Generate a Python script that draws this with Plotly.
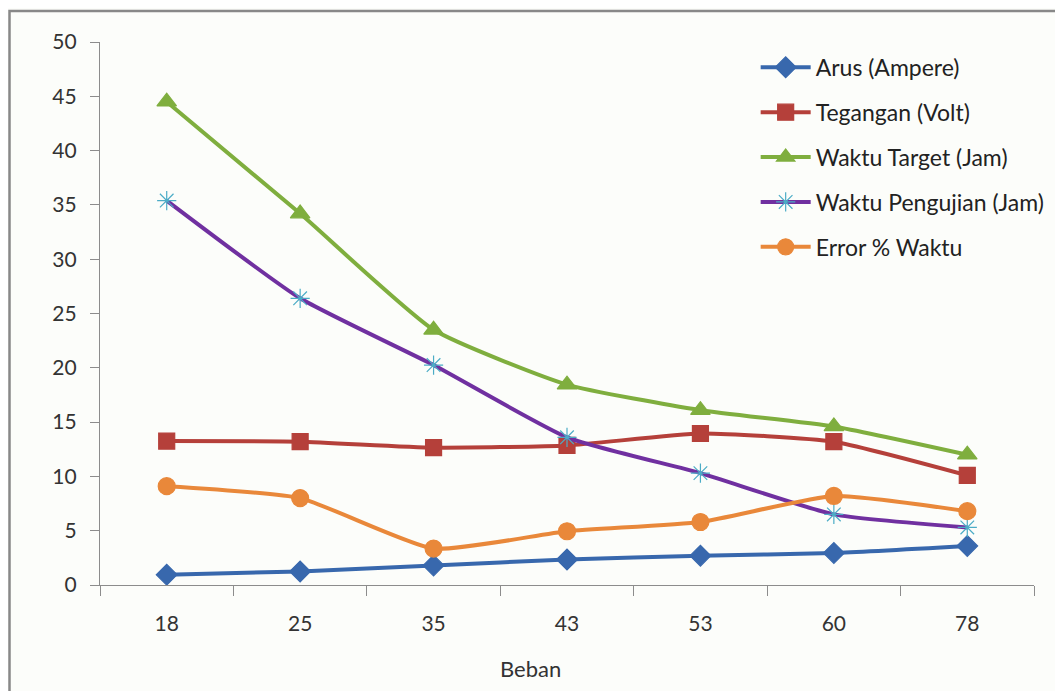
import plotly.graph_objects as go

beban = ["18", "25", "35", "43", "53", "60", "78"]
arus = [0.95, 1.25, 1.8, 2.35, 2.7, 2.95, 3.6]
tegangan = [13.25, 13.2, 12.65, 12.85, 13.95, 13.2, 10.1]
waktu_target = [44.5, 34.2, 23.5, 18.45, 16.1, 14.6, 12.0]
waktu_pengujian = [35.4, 26.4, 20.25, 13.6, 10.3, 6.5, 5.3]
error_waktu = [9.1, 8.0, 3.35, 4.95, 5.8, 8.2, 6.8]
y_ticks = [0, 5, 10, 15, 20, 25, 30, 35, 40, 45, 50]

series = [
    ("Arus (Ampere)", arus, "#3868ad", "#3868ad", "diamond", 16),
    ("Tegangan (Volt)", tegangan, "#b5403a", "#b5403a", "square", 16),
    ("Waktu Target (Jam)", waktu_target, "#7fae3e", "#7fae3e", "triangle-up", 17),
    ("Waktu Pengujian (Jam)", waktu_pengujian, "#7030a0", "#4bacc6", "asterisk-open", 16),
    ("Error % Waktu", error_waktu, "#e9883a", "#e9883a", "circle", 17),
]

fig = go.Figure()
for i, (name, vals, lc, mc, sym, size) in enumerate(series):
    fig.add_trace(go.Scatter(
        x=beban, y=vals, name=name, mode="lines+markers",
        legendgroup=f"g{i}",
        line=dict(color=lc, width=4, shape="spline", smoothing=0.5),
        marker=dict(symbol=sym, size=size, color=mc,
                    line=dict(color=mc, width=1.2)),
    ))

# the page adds an 8px body margin, so the figure is drawn 8px smaller
fig.update_layout(
    width=1055, height=683,
    margin=dict(l=92, r=29, t=34, b=106),
    paper_bgcolor="#fcfdfa", plot_bgcolor="#fcfdfa",
    font=dict(family="Lato, Open Sans, sans-serif", size=21, color="#333333"),
    legend=dict(x=0.702, y=0.993, xanchor="left", yanchor="top",
                bgcolor="rgba(0,0,0,0)", tracegroupgap=12,
                font=dict(size=23, color="#222222"), itemwidth=50),
    showlegend=True,
)
fig.update_xaxes(
    type="category", range=[-0.5, 6.5], showgrid=False,
    showline=True, linecolor="#8c8c8c", linewidth=1.2,
    ticks="outside", tickson="boundaries", ticklen=10, tickcolor="#8c8c8c",
    ticklabelstandoff=20, zeroline=False,
)
fig.update_yaxes(
    range=[0, 50], tickvals=y_ticks, showgrid=False,
    showline=True, linecolor="#8c8c8c", linewidth=1.2,
    ticks="outside", ticklen=9, tickcolor="#8c8c8c",
    ticklabelstandoff=9, zeroline=False,
)
fig.add_annotation(text="Beban", xref="paper", yref="paper",
                   x=(530 - 100) / 934, y=-(668 - 585) / 543,
                   xanchor="center", yanchor="middle",
                   showarrow=False, font=dict(size=22, color="#333333"))
# chart frame (cut off at right and bottom in the source)
fig.add_shape(type="rect", xref="paper", yref="paper",
              x0=-(100 - 9.5) / 934, x1=1.2, y0=-0.5, y1=(585 - 11) / 543,
              line=dict(color="#888888", width=2.5), layer="below")

fig.write_html("out.html")
